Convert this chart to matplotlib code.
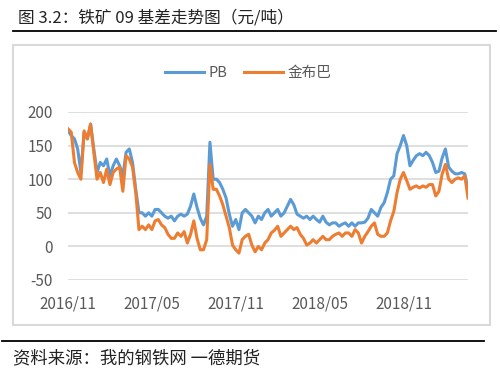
import matplotlib
matplotlib.use("Agg")
import matplotlib.pyplot as plt
from matplotlib.patches import Rectangle
from matplotlib.lines import Line2D
import pandas as pd

plt.rcParams['font.family'] = ['Noto Sans CJK SC', 'DejaVu Sans']
plt.rcParams['axes.unicode_minus'] = False

title = "图 3.2：铁矿 09 基差走势图（元/吨）"
source = "资料来源：我的钢铁网 一德期货"
series_names = ["PB", "金布巴"]
start_date = "2016-11-01"

pb = [172, 165, 160, 145, 110, 170, 160, 182, 145, 110,
      125, 120, 130, 105, 120, 130, 120, 105, 140, 145,
      125, 85, 50, 50, 45, 50, 45, 55, 55, 50,
      45, 42, 45, 38, 45, 48, 45, 48, 60, 78,
      58, 42, 32, 45, 155, 100, 100, 95, 85, 72,
      48, 30, 40, 25, 50, 55, 50, 45, 35, 45,
      40, 50, 55, 45, 50, 55, 45, 50, 60, 70,
      62, 48, 45, 42, 45, 40, 45, 40, 36, 45,
      36, 32, 35, 35, 30, 33, 35, 30, 35, 30,
      35, 35, 36, 42, 55, 50, 45, 58, 65, 80,
      100, 105, 138, 150, 165, 150, 120, 128, 135, 138,
      135, 140, 135, 125, 110, 112, 132, 145, 118, 112,
      108, 108, 110, 108, 85]

jbb = [175, 170, 125, 110, 100, 172, 160, 182, 140, 100,
       110, 95, 115, 92, 110, 115, 118, 82, 135, 130,
       118, 80, 25, 30, 25, 32, 25, 38, 40, 32,
       28, 18, 12, 12, 20, 15, 22, 5, 18, 38,
       12, -5, -5, 10, 122, 85, 85, 75, 62, 45,
       28, 2, -5, -10, 10, 15, 18, 2, -8, 0,
       -5, 5, 10, 20, 24, 30, 15, 20, 25, 30,
       25, 28, 18, 12, 2, 5, 10, 5, 10, 15,
       10, 10, 15, 18, 20, 15, 20, 20, 15, 25,
       20, 5, 15, 22, 30, 35, 18, 15, 15, 20,
       38, 52, 80, 100, 110, 98, 85, 88, 90, 87,
       90, 88, 92, 92, 75, 82, 108, 122, 100, 95,
       100, 102, 100, 105, 72]

tick_dates = ["2016-11-01", "2017-05-01", "2017-11-01", "2018-05-01", "2018-11-01"]
tick_labels = ["2016/11", "2017/05", "2017/11", "2018/05", "2018/11"]
y_ticks = [-50, 0, 50, 100, 150, 200]

dates = pd.date_range(start_date, periods=len(pb), freq="7D")

W, H = 500, 381
fig = plt.figure(figsize=(W / 100, H / 100), dpi=100)
fig.patch.set_facecolor("white")

# chart frame
fig.patches.append(Rectangle((12.7 / W, 1 - 325 / H), (490 - 12.7) / W, (325 - 45) / H,
                             transform=fig.transFigure, fill=False,
                             edgecolor="#d9d9d9", linewidth=1.5))
# title and rules
fig.text(18 / W, 1 - 18 / H, title, fontsize=12, color="#222222", va="center", ha="left")
fig.add_artist(Line2D([13 / W, 496 / W], [1 - 31 / H, 1 - 31 / H], color="black", lw=1.3))
fig.add_artist(Line2D([2 / W, 484 / W], [1 - 341 / H, 1 - 341 / H], color="black", lw=1.3))
fig.text(13 / W, 1 - 358 / H, source, fontsize=12.5, color="#222222", va="center", ha="left")

ax = fig.add_axes([68 / W, 1 - 280 / H, 400 / W, 168 / H])
ax.plot(dates, pb, color="#5B9BD5", lw=2.2, label=series_names[0], solid_joinstyle="round")
ax.plot(dates, jbb, color="#ED7D31", lw=2.2, label=series_names[1], solid_joinstyle="round")

ax.set_ylim(-50, 200)
ax.set_yticks(y_ticks)
ax.set_xlim(dates[0], dates[-1])
ax.set_xticks(pd.to_datetime(tick_dates))
ax.set_xticklabels(tick_labels)
ax.grid(axis="y", color="#d9d9d9", lw=1.2)
ax.set_axisbelow(True)
for s in ax.spines.values():
    s.set_visible(False)
ax.tick_params(axis="both", length=0, labelsize=11, labelcolor="#595959")
ax.tick_params(axis="y", pad=11)
ax.tick_params(axis="x", pad=11)

fig.legend(loc="center", bbox_to_anchor=(248 / W, 1 - 73 / H), ncol=2, frameon=False,
           fontsize=10.5, labelcolor="#595959", handlelength=2.7, handletextpad=0.3,
           columnspacing=1.1)

fig.savefig("out.png", dpi=100)
